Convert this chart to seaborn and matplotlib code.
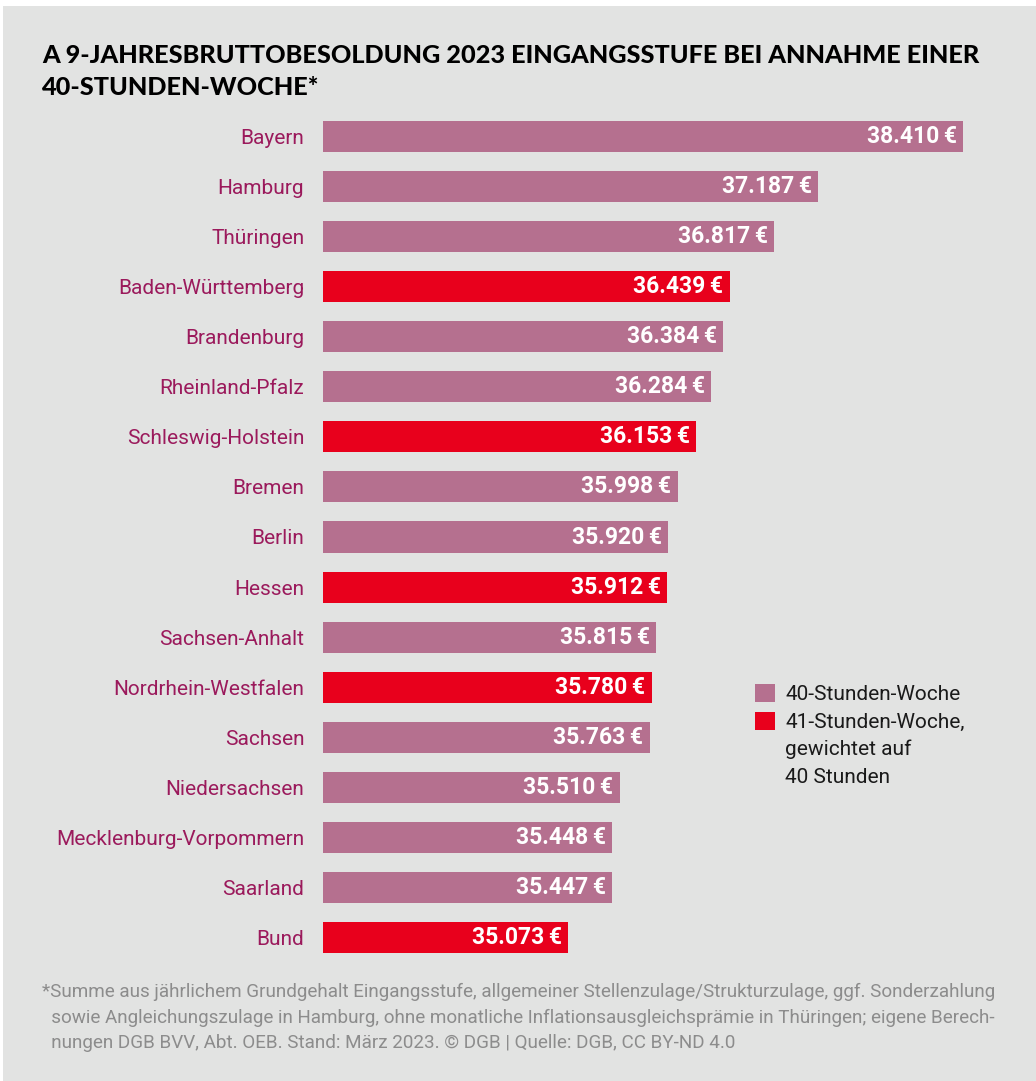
import matplotlib
matplotlib.use("Agg")
import matplotlib.pyplot as plt
import seaborn as sns
import pandas as pd
from matplotlib.patches import Rectangle, Patch

states = ["Bayern", "Hamburg", "Thüringen", "Baden-Württemberg", "Brandenburg",
          "Rheinland-Pfalz", "Schleswig-Holstein", "Bremen", "Berlin", "Hessen",
          "Sachsen-Anhalt", "Nordrhein-Westfalen", "Sachsen", "Niedersachsen",
          "Mecklenburg-Vorpommern", "Saarland", "Bund"]
values = [38410, 37187, 36817, 36439, 36384, 36284, 36153, 35998, 35920, 35912,
          35815, 35780, 35763, 35510, 35448, 35447, 35073]
weeks = ["40", "40", "40", "41", "40", "40", "41", "40", "40", "41",
         "40", "41", "40", "40", "40", "40", "41"]
legend_labels = ["40-Stunden-Woche", "41-Stunden-Woche,", "gewichtet auf", "40 Stunden"]

title = "A 9-JAHRESBRUTTOBESOLDUNG 2023 EINGANGSSTUFE BEI ANNAHME EINER\n40-STUNDEN-WOCHE*"
footnote = ("*Summe aus jährlichem Grundgehalt Eingangsstufe, allgemeiner Stellenzulage/Strukturzulage, ggf. Sonderzahlung\n"
            "  sowie Angleichungszulage in Hamburg, ohne monatliche Inflationsausgleichsprämie in Thüringen; eigene Berech-\n"
            "  nungen DGB BVV, Abt. OEB. Stand: März 2023. \u00a9 DGB | Quelle: DGB, CC BY-ND 4.0")

BG = "#e2e3e2"
MAUVE = "#b5708f"
RED = "#e8001c"
LABEL = "#9b1a5c"

df = pd.DataFrame({"state": states, "value": values, "week": weeks})

W, H = 1036, 1081
fig = plt.figure(figsize=(W / 100, H / 100), dpi=100, facecolor="white")
fig.patches.append(Rectangle((3 / W, 0), 1 - 3 / W, (H - 6) / H,
                             transform=fig.transFigure, facecolor=BG,
                             edgecolor="none", zorder=-10))

ax_left, ax_right = 323, 963
ax_top, ax_bottom = 111, 963
ax = fig.add_axes([ax_left / W, (H - ax_bottom) / H,
                   (ax_right - ax_left) / W, (ax_bottom - ax_top) / H])
ax.set_facecolor("none")

sns.barplot(data=df, y="state", x="value", hue="week", order=states,
            hue_order=["40", "41"], palette={"40": MAUVE, "41": RED},
            dodge=False, width=0.62, legend=False, ax=ax, saturation=1)

ax.set_xlim(33003, 38410)
ax.set_ylim(len(states) - 0.5, -0.5)
for s in ax.spines.values():
    s.set_visible(False)
ax.set_xticks([])
ax.set_xlabel("")
ax.set_ylabel("")
ax.tick_params(axis="y", length=0, pad=13.5)
for t in ax.get_yticklabels():
    t.set_fontfamily("Roboto")
    t.set_fontsize(15)
    t.set_color(LABEL)

def fmt(v):
    return f"{v:,.0f}".replace(",", ".") + "\u2009€"

for cont in ax.containers:
    vals = [b.get_width() for b in cont]
    texts = ax.bar_label(cont, labels=[fmt(v) for v in vals], padding=-4.5,
                         color="white", fontsize=16.5, fontweight="bold",
                         fontfamily=["Roboto", "DejaVu Sans"])
    for t in texts:
        t.set_ha("right")

handles = [Patch(facecolor=MAUVE, edgecolor="none"),
           Patch(facecolor=RED, edgecolor="none"),
           Patch(facecolor="none", edgecolor="none"),
           Patch(facecolor="none", edgecolor="none")]
leg = fig.legend(handles, legend_labels, loc="upper left",
                 bbox_to_anchor=(755 / W, (H - 684) / H), frameon=False,
                 prop={"family": "Roboto", "size": 15},
                 handlelength=0.95, handleheight=0.95, handletextpad=0.5,
                 labelspacing=0.36, borderaxespad=0, borderpad=0)
for t in leg.get_texts():
    t.set_color("#1a1a1a")

fig.text(42 / W, 1 - 44 / H, title, ha="left", va="top", fontsize=18.2,
         fontfamily="Lato", fontweight="black", color="black", linespacing=1.45)

fig.text(42 / W, 1 - 983 / H, footnote, ha="left", va="top", fontsize=13.6,
         fontfamily="Roboto", color="#8c8c8c", linespacing=1.52)

fig.savefig("out.png", dpi=100, facecolor=fig.get_facecolor())
